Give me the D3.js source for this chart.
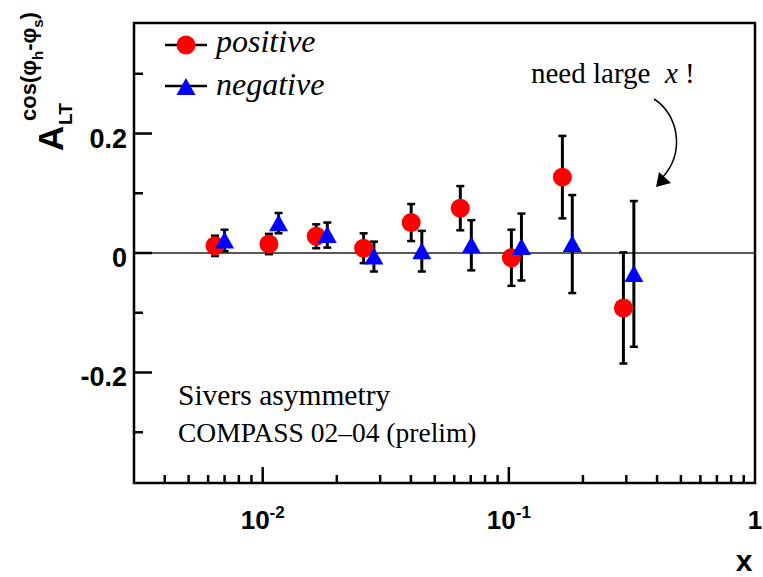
<!DOCTYPE html>
<html lang="en">
<head>
    <meta charset="UTF-8">
    <title>Sivers asymmetry</title>
    <script src="https://d3js.org/d3.v7.min.js"></script>
    <style>
        body{ margin:0; background:#fff; }
        .sans{ font-family:"Liberation Sans", Arial, sans-serif; font-weight:bold; }
        .serif{ font-family:"Liberation Serif", "Times New Roman", "DejaVu Serif", serif; white-space:pre; }
    </style>
</head>
<body>
<svg id="main" width="763" height="577"></svg>

<script>
    // data
    let xPos = [0.0064, 0.0106, 0.0165, 0.0257, 0.0401, 0.0635, 0.1024, 0.165, 0.292]
    let yPos = [0.012, 0.015, 0.028, 0.008, 0.051, 0.075, -0.008, 0.127, -0.092]
    let ePos = [0.017, 0.017, 0.020, 0.025, 0.031, 0.037, 0.047, 0.069, 0.093]

    let xNeg = [0.0070, 0.0116, 0.0183, 0.0283, 0.0443, 0.0704, 0.1125, 0.181, 0.322]
    let yNeg = [0.021, 0.050, 0.030, -0.006, 0.003, 0.013, 0.010, 0.015, -0.035]
    let eNeg = [0.018, 0.017, 0.021, 0.025, 0.034, 0.042, 0.056, 0.082, 0.122]

    let yMajor = [-0.2, 0, 0.2]
    let yMinor = [-0.3, -0.1, 0.1, 0.3]
    let xMajor = [0.01, 0.1, 1]
    let xMajorLabels = [["10", "-2"], ["10", "-1"], ["1", ""]]

    let svg = d3.select("#main")
    let pLeft = 134, pRight = 755, pTop = 23, pBottom = 483

    let x = d3.scaleLog().domain([0.003, 1]).range([pLeft, pRight])
    let y = d3.scaleLinear().domain([-0.385, 0.385]).range([pBottom, pTop])

    // minor x ticks 2..9 per decade
    let xMinor = []
    ;[0.001, 0.01, 0.1].forEach(function (dec) {
        for (let k = 2; k <= 9; k++) {
            let v = dec * k
            if (v > 0.003 && v < 1) xMinor.push(v)
        }
    })

    // frame
    svg.append("rect")
        .attr("x", pLeft).attr("y", pTop)
        .attr("width", pRight - pLeft).attr("height", pBottom - pTop)
        .attr("fill", "none").attr("stroke", "#000").attr("stroke-width", 2.5)

    // zero line
    svg.append("line")
        .attr("x1", pLeft).attr("x2", pRight)
        .attr("y1", y(0)).attr("y2", y(0))
        .attr("stroke", "#222").attr("stroke-width", 1.4)

    // y ticks
    svg.selectAll(".ymaj").data(yMajor).enter().append("line")
        .attr("x1", pLeft).attr("x2", pLeft + 18)
        .attr("y1", d => y(d)).attr("y2", d => y(d))
        .attr("stroke", "#000").attr("stroke-width", 2.5)
    svg.selectAll(".ymin").data(yMinor).enter().append("line")
        .attr("x1", pLeft).attr("x2", pLeft + 9)
        .attr("y1", d => y(d)).attr("y2", d => y(d))
        .attr("stroke", "#000").attr("stroke-width", 2.5)
    svg.selectAll(".ylab").data(yMajor).enter().append("text")
        .attr("class", "sans")
        .attr("x", pLeft - 7).attr("y", d => y(d) + 14)
        .attr("text-anchor", "end")
        .attr("font-size", 27)
        .text(d => d === 0 ? "0" : d3.format(".1f")(d).replace("−", "-"))

    // x ticks
    svg.selectAll(".xmaj").data(xMajor.filter(d => d < 1)).enter().append("line")
        .attr("x1", d => x(d)).attr("x2", d => x(d))
        .attr("y1", pBottom).attr("y2", pBottom - 16)
        .attr("stroke", "#000").attr("stroke-width", 2.5)
    svg.selectAll(".xmin").data(xMinor).enter().append("line")
        .attr("x1", d => x(d)).attr("x2", d => x(d))
        .attr("y1", pBottom).attr("y2", pBottom - 8)
        .attr("stroke", "#000").attr("stroke-width", 2.5)
    xMajor.forEach(function (d, i) {
        let t = svg.append("text")
            .attr("class", "sans")
            .attr("x", x(d)).attr("y", 529)
            .attr("text-anchor", "middle")
            .attr("font-size", 26)
        t.append("tspan").text(xMajorLabels[i][0])
        if (xMajorLabels[i][1]) {
            t.append("tspan").attr("font-size", 17).attr("dy", -11).text(xMajorLabels[i][1])
        }
    })

    // axis titles
    svg.append("text").attr("class", "sans")
        .attr("x", 744).attr("y", 571).attr("text-anchor", "middle")
        .attr("font-size", 30).text("x")

    svg.append("text").attr("class", "sans")
        .attr("transform", "translate(63,151) rotate(-90)")
        .attr("font-size", 35).text("A")
    svg.append("text").attr("class", "sans")
        .attr("transform", "translate(72,125) rotate(-90)")
        .attr("font-size", 19).text("LT")
    let cs = svg.append("text").attr("class", "sans")
        .attr("transform", "translate(36,121) rotate(-90)")
        .attr("font-size", 22)
    cs.append("tspan").text("cos(φ")
    cs.append("tspan").attr("font-size", 15).attr("dy", 7).text("h")
    cs.append("tspan").attr("dy", -7).text("-φ")
    cs.append("tspan").attr("font-size", 15).attr("dy", 7).text("s")
    cs.append("tspan").attr("dy", -7).text(")")

    // error bars
    function errorBars(xs, ys, es) {
        let g = svg.append("g").attr("stroke", "#000").attr("stroke-width", 3)
        xs.forEach(function (xv, i) {
            let cx = x(xv)
            g.append("line").attr("x1", cx).attr("x2", cx)
                .attr("y1", y(ys[i] + es[i])).attr("y2", y(ys[i] - es[i]))
            ;[ys[i] + es[i], ys[i] - es[i]].forEach(function (v) {
                g.append("line").attr("x1", cx - 4).attr("x2", cx + 4)
                    .attr("y1", y(v)).attr("y2", y(v)).attr("stroke-width", 2.5)
            })
        })
    }
    errorBars(xPos, yPos, ePos)
    errorBars(xNeg, yNeg, eNeg)

    let tri = "M0,-9L9.5,8L-9.5,8Z"

    svg.selectAll(".pos").data(xPos).enter().append("circle")
        .attr("cx", d => x(d)).attr("cy", (d, i) => y(yPos[i]))
        .attr("r", 9.5).attr("fill", "#ff0000")
    svg.selectAll(".neg").data(xNeg).enter().append("path")
        .attr("d", tri)
        .attr("transform", (d, i) => "translate(" + x(d) + "," + y(yNeg[i]) + ")")
        .attr("fill", "#0000ff")

    // legend
    svg.append("line").attr("x1", 165).attr("x2", 207).attr("y1", 45).attr("y2", 45)
        .attr("stroke", "#000").attr("stroke-width", 2.5)
    svg.append("circle").attr("cx", 186).attr("cy", 45).attr("r", 9.5).attr("fill", "#ff0000")
    svg.append("line").attr("x1", 165).attr("x2", 207).attr("y1", 86).attr("y2", 86)
        .attr("stroke", "#000").attr("stroke-width", 2.5)
    svg.append("path").attr("d", tri).attr("transform", "translate(186,87)").attr("fill", "#0000ff")
    svg.append("text").attr("class", "serif").attr("font-style", "italic")
        .attr("x", 216).attr("y", 52).attr("font-size", 32).text("positive")
    svg.append("text").attr("class", "serif").attr("font-style", "italic")
        .attr("x", 216).attr("y", 95).attr("font-size", 32).text("negative")

    // annotation
    let ann = svg.append("text").attr("class", "serif")
        .attr("x", 531).attr("y", 83).attr("font-size", 29)
    ann.append("tspan").text("need large  ")
    ann.append("tspan").attr("font-style", "italic").text("x")
    ann.append("tspan").text(" !")

    svg.append("path")
        .attr("d", "M654,99C678,114 686,152 662,178")
        .attr("fill", "none").attr("stroke", "#000").attr("stroke-width", 1.5)
    svg.append("path")
        .attr("d", "M656,187L659,172L671,183Z").attr("fill", "#000")

    svg.append("text").attr("class", "serif")
        .attr("x", 178).attr("y", 405).attr("font-size", 29.5).text("Sivers asymmetry")
    svg.append("text").attr("class", "serif")
        .attr("x", 178).attr("y", 442).attr("font-size", 27.5).text("COMPASS 02–04 (prelim)")
</script>

</body>
</html>
